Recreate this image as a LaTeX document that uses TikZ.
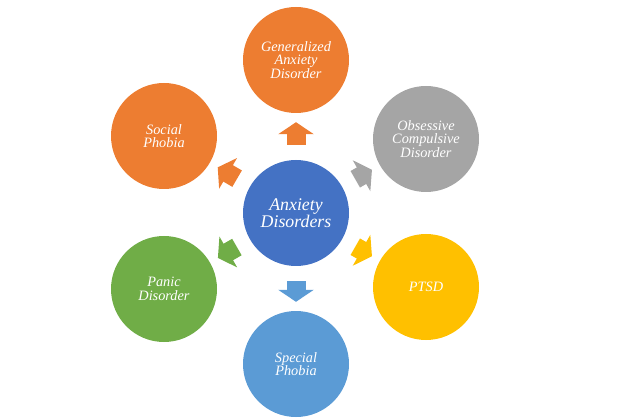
\documentclass[tikz,border=0pt]{standalone}
\usepackage{fontspec}
\setmainfont{Liberation Serif}
\usepackage{xcolor}
\usepackage{tikz}
\usetikzlibrary{arrows.meta,positioning}
\definecolor{dblue}{HTML}{4472C4}
\definecolor{dorange}{HTML}{ED7D31}
\definecolor{dgray}{HTML}{A5A5A5}
\definecolor{dyellow}{HTML}{FFC000}
\definecolor{dgreen}{HTML}{70AD47}
\definecolor{dlight}{HTML}{5B9BD5}

\begin{document}
\begin{tikzpicture}[x=1pt, y=-1pt,
    disorder/.style={circle, minimum size=106pt, inner sep=0pt, text=white, align=center, font=\itshape\fontsize{14.3}{13.5}\selectfont},
    blockarrow/.style={-{Triangle[width=35pt,length=12pt]}, line width=19pt, shorten <=15pt, shorten >=9pt}]
        \useasboundingbox (0,0) rectangle (620,419);

        % Central node
        \node[disorder, fill=dblue, font=\itshape\fontsize{17.8}{16.5}\selectfont] (anx) at (296,213) {Anxiety\\Disorders};

        % Disorder nodes
        \node[disorder, fill=dorange] (gad) at (296,60) {Generalized\\Anxiety\\Disorder};
        \node[disorder, fill=dorange] (soc) at (164,136) {Social\\Phobia};
        \node[disorder, fill=dgray] (ocd) at (426,139) {Obsessive\\Compulsive\\Disorder};
        \node[disorder, fill=dgreen] (pan) at (164,289) {Panic\\Disorder};
        \node[disorder, fill=dyellow] (ptsd) at (426,287) {PTSD};
        \node[disorder, fill=dlight] (spec) at (296,364) {Special\\Phobia};

        % Block arrows
        \draw[blockarrow, dorange] (anx) -- (gad);
        \draw[blockarrow, dorange] (anx) -- (soc);
        \draw[blockarrow, dgray] (anx) -- (ocd);
        \draw[blockarrow, dgreen] (anx) -- (pan);
        \draw[blockarrow, dyellow] (anx) -- (ptsd);
        \draw[blockarrow, dlight] (anx) -- (spec);
    \end{tikzpicture}
\end{document}
